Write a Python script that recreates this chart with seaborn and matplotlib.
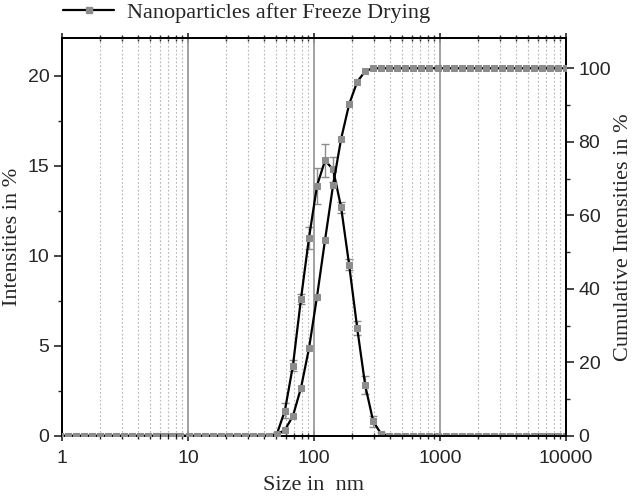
import numpy as np
import pandas as pd
import matplotlib
matplotlib.use("Agg")
import matplotlib.pyplot as plt
import seaborn as sns
from matplotlib.lines import Line2D
from matplotlib.ticker import LogLocator, NullFormatter, FixedLocator

# size classes (nm), standard 70 log bins
size_nm = [0.4, 0.4632, 0.5365, 0.6213, 0.7195, 0.8332, 0.9649, 1.117, 1.294, 1.499,
           1.736, 2.010, 2.328, 2.696, 3.122, 3.615, 4.187, 4.849, 5.615, 6.503,
           7.531, 8.721, 10.10, 11.70, 13.54, 15.69, 18.17, 21.04, 24.36, 28.21,
           32.67, 37.84, 43.82, 50.75, 58.77, 68.06, 78.82, 91.28, 105.7, 122.4,
           141.8, 164.2, 190.1, 220.2, 255.0, 295.3, 342.0, 396.1, 458.7, 531.2,
           615.1, 712.4, 825.0, 955.4, 1106, 1281, 1484, 1718, 1990, 2305,
           2669, 3091, 3580, 4145, 4801, 5560, 6439, 7456, 8635, 10000]

intensity = [0, 0, 0, 0, 0, 0, 0, 0, 0, 0,
             0, 0, 0, 0, 0, 0, 0, 0, 0, 0,
             0, 0, 0, 0, 0, 0, 0, 0, 0, 0,
             0, 0, 0, 0.1, 1.4, 3.9, 7.6, 11.0, 13.9, 15.3,
             14.8, 12.7, 9.5, 6.0, 2.8, 0.8, 0.1, 0, 0, 0,
             0, 0, 0, 0, 0, 0, 0, 0, 0, 0,
             0, 0, 0, 0, 0, 0, 0, 0, 0, 0]

intensity_err = [0, 0, 0, 0, 0, 0, 0, 0, 0, 0,
                 0, 0, 0, 0, 0, 0, 0, 0, 0, 0,
                 0, 0, 0, 0, 0, 0, 0, 0, 0, 0,
                 0, 0, 0, 0.1, 0.4, 0.3, 0.3, 0.6, 1.0, 0.9,
                 0.7, 0.3, 0.3, 0.4, 0.5, 0.3, 0.1, 0, 0, 0,
                 0, 0, 0, 0, 0, 0, 0, 0, 0, 0,
                 0, 0, 0, 0, 0, 0, 0, 0, 0, 0]

cumulative = [0, 0, 0, 0, 0, 0, 0, 0, 0, 0,
              0, 0, 0, 0, 0, 0, 0, 0, 0, 0,
              0, 0, 0, 0, 0, 0, 0, 0, 0, 0,
              0, 0, 0, 0.3, 1.6, 5.4, 13.0, 23.8, 37.9, 53.3,
              68.2, 80.8, 90.2, 96.3, 99.2, 100, 100, 100, 100, 100,
              100, 100, 100, 100, 100, 100, 100, 100, 100, 100,
              100, 100, 100, 100, 100, 100, 100, 100, 100, 100]

df = pd.DataFrame({"Size": size_nm, "Intensity": intensity,
                   "Err": intensity_err, "Cumulative": cumulative})

sns.set_style("ticks")
serif = ["Liberation Serif", "DejaVu Serif"]
sans = ["Liberation Sans", "DejaVu Sans"]

fig = plt.figure(figsize=(6.32, 5.01), dpi=100)
ax = fig.add_axes([0.098, 0.13, 0.7976, 0.794])
ax2 = ax.twinx()

grey = "#8c8c8c"

# intensity distribution with error bars
ax.errorbar(df["Size"], df["Intensity"], yerr=df["Err"], fmt="none",
            ecolor=grey, elinewidth=1.0, capsize=3, capthick=1.0, zorder=3)
sns.lineplot(data=df, x="Size", y="Intensity", ax=ax, color="black", lw=1.6,
             marker="s", markersize=4.6, markerfacecolor=grey, markeredgecolor=grey,
             zorder=4)

# cumulative
sns.lineplot(data=df, x="Size", y="Cumulative", ax=ax2, color="black", lw=1.6,
             marker="s", markersize=4.6, markerfacecolor=grey, markeredgecolor=grey,
             zorder=4)

ax.set_xscale("log")
ax.set_xlim(1, 10000)
ax.set_ylim(0, 22.1)
ax2.set_ylim(0, 108.2)

# vertical grid lines
for d in [10, 100, 1000]:
    ax.axvline(d, color="#9a9a9a", lw=1.3, zorder=1)
for dec in [1, 10, 100, 1000]:
    for m in range(2, 10):
        ax.axvline(dec * m, color="#b5b5b5", lw=0.8, ls=(0, (1.5, 2)), zorder=1)

ax.set_xticks([1, 10, 100, 1000, 10000])
ax.set_xticklabels(["1", "10", "100", "1000", "10000"])
ax.xaxis.set_minor_locator(LogLocator(base=10, subs=np.arange(2, 10)))
ax.xaxis.set_minor_formatter(NullFormatter())
ax.set_yticks([0, 5, 10, 15, 20])
ax.yaxis.set_minor_locator(FixedLocator(np.arange(2.5, 22, 5)))
ax2.set_yticks([0, 20, 40, 60, 80, 100])
ax2.yaxis.set_minor_locator(FixedLocator(np.arange(10, 108, 20)))

ax.tick_params(axis="x", which="major", direction="inout", length=7, width=1.2,
               top=True, labelsize=14, pad=7)
ax.tick_params(axis="x", which="minor", direction="inout", length=5, width=1.0, top=True)
ax.tick_params(axis="y", which="major", direction="out", length=6, width=1.2,
               labelsize=14, pad=3)
ax.tick_params(axis="y", which="minor", direction="out", length=3, width=1.0)
ax2.tick_params(axis="y", which="major", direction="out", length=6, width=1.2,
                labelsize=14, pad=3)
ax2.tick_params(axis="y", which="minor", direction="out", length=3, width=1.0)

for a in (ax, ax2):
    for s in a.spines.values():
        s.set_visible(True)
        s.set_linewidth(1.3)
        s.set_color("black")
    for lab in a.get_xticklabels() + a.get_yticklabels():
        lab.set_family(sans)

ax.set_xlabel("Size in  nm", fontsize=16, family=serif, labelpad=6)
ax.set_ylabel("Intensities in %", fontsize=16, family=serif, labelpad=4)
ax2.set_ylabel("Cumulative Intensities in %", fontsize=16, family=serif, labelpad=2)

handle = Line2D([], [], color="black", lw=1.6, marker="s", markersize=4.6,
                markerfacecolor=grey, markeredgecolor=grey)
fig.legend([handle], ["Nanoparticles after Freeze Drying"], loc="upper left",
           bbox_to_anchor=(0.068, 1.035), frameon=False, handlelength=2.3,
           handletextpad=0.6, prop={"family": serif, "size": 16})

fig.savefig("out.png", dpi=100)
